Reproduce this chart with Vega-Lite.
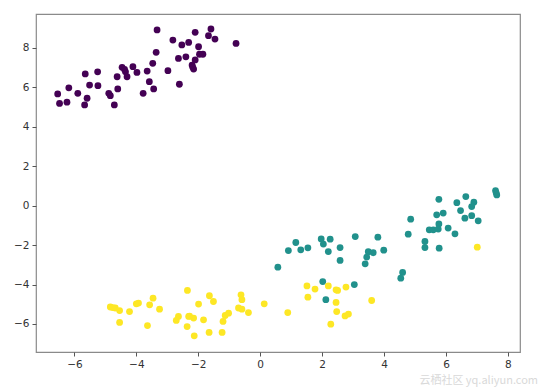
{
  "$schema": "https://vega.github.io/schema/vega-lite/v6.json",
  "width": 484,
  "height": 338,
  "autosize": {"type": "none"},
  "padding": {"left": 36, "top": 14, "right": 19, "bottom": 35},
  "background": "white",
  "title": {"text": "云栖社区 yq.aliyun.com", "orient": "bottom", "anchor": "end", "color": "#d9d9d9", "fontSize": 11, "font": "Noto Sans CJK SC", "fontWeight": "normal", "offset": 5, "dx": 18},
  "config": {
    "view": {"stroke": "#8a8a8a", "strokeWidth": 1.2},
    "axis": {"grid": false, "domain": false, "tickColor": "#555", "tickSize": 4, "labelColor": "#333", "labelFont": "DejaVu Sans", "labelFontSize": 10.5, "labelPadding": 3, "title": null}
  },
  "data": {"values": [
    {"x": -3.33, "y": 8.90, "c": 0}, {"x": -2.10, "y": 8.78, "c": 0}, {"x": -1.59, "y": 8.95, "c": 0}, {"x": -1.67, "y": 8.61, "c": 0},
    {"x": -1.46, "y": 8.44, "c": 0}, {"x": -2.82, "y": 8.39, "c": 0}, {"x": -2.53, "y": 8.14, "c": 0}, {"x": -2.31, "y": 8.27, "c": 0},
    {"x": -1.99, "y": 8.05, "c": 0}, {"x": -0.78, "y": 8.22, "c": 0}, {"x": -3.36, "y": 7.77, "c": 0}, {"x": -1.96, "y": 7.67, "c": 0},
    {"x": -1.85, "y": 7.67, "c": 0}, {"x": -2.64, "y": 7.46, "c": 0}, {"x": -2.40, "y": 7.54, "c": 0}, {"x": -2.10, "y": 7.38, "c": 0},
    {"x": -2.20, "y": 7.12, "c": 0}, {"x": -2.15, "y": 6.92, "c": 0}, {"x": -3.47, "y": 7.21, "c": 0}, {"x": -2.98, "y": 6.84, "c": 0},
    {"x": -4.46, "y": 7.01, "c": 0}, {"x": -4.11, "y": 7.04, "c": 0}, {"x": -4.35, "y": 6.78, "c": 0}, {"x": -4.30, "y": 6.53, "c": 0},
    {"x": -3.98, "y": 6.75, "c": 0}, {"x": -3.65, "y": 6.82, "c": 0}, {"x": -5.25, "y": 6.78, "c": 0}, {"x": -5.65, "y": 6.67, "c": 0},
    {"x": -4.62, "y": 6.53, "c": 0}, {"x": -3.58, "y": 6.28, "c": 0}, {"x": -3.44, "y": 5.91, "c": 0}, {"x": -3.78, "y": 5.69, "c": 0},
    {"x": -2.61, "y": 6.15, "c": 0}, {"x": -5.51, "y": 6.11, "c": 0}, {"x": -5.24, "y": 6.08, "c": 0}, {"x": -4.60, "y": 5.91, "c": 0},
    {"x": -6.18, "y": 5.97, "c": 0}, {"x": -6.54, "y": 5.66, "c": 0}, {"x": -5.89, "y": 5.69, "c": 0}, {"x": -4.89, "y": 5.69, "c": 0},
    {"x": -4.84, "y": 5.57, "c": 0}, {"x": -5.59, "y": 5.44, "c": 0}, {"x": -6.48, "y": 5.18, "c": 0}, {"x": -6.24, "y": 5.24, "c": 0},
    {"x": -5.67, "y": 5.10, "c": 0}, {"x": -4.71, "y": 5.10, "c": 0}, {"x": -2.18, "y": 7.02, "c": 0}, {"x": -4.38, "y": 6.9, "c": 0},
    {"x": 1.15, "y": -1.87, "c": 1}, {"x": 0.91, "y": -2.28, "c": 1}, {"x": 1.31, "y": -2.24, "c": 1}, {"x": 1.54, "y": -2.14, "c": 1},
    {"x": 1.97, "y": -1.69, "c": 1}, {"x": 2.04, "y": -1.95, "c": 1}, {"x": 2.26, "y": -1.70, "c": 1}, {"x": 2.20, "y": -2.33, "c": 1},
    {"x": 2.58, "y": -2.13, "c": 1}, {"x": 3.07, "y": -1.57, "c": 1}, {"x": 3.80, "y": -1.60, "c": 1}, {"x": 3.99, "y": -2.26, "c": 1},
    {"x": 3.49, "y": -2.34, "c": 1}, {"x": 3.65, "y": -2.39, "c": 1}, {"x": 3.44, "y": -2.61, "c": 1}, {"x": 3.39, "y": -2.95, "c": 1},
    {"x": 2.58, "y": -2.78, "c": 1}, {"x": 0.57, "y": -3.12, "c": 1}, {"x": 2.02, "y": -3.85, "c": 1}, {"x": 2.12, "y": -4.77, "c": 1},
    {"x": 3.04, "y": -4.00, "c": 1}, {"x": 4.60, "y": -3.39, "c": 1}, {"x": 4.54, "y": -3.68, "c": 1}, {"x": 4.86, "y": -0.69, "c": 1},
    {"x": 4.78, "y": -1.45, "c": 1}, {"x": 5.77, "y": 0.32, "c": 1}, {"x": 6.35, "y": 0.15, "c": 1}, {"x": 6.64, "y": 0.46, "c": 1},
    {"x": 6.90, "y": 0.17, "c": 1}, {"x": 6.83, "y": -0.05, "c": 1}, {"x": 6.47, "y": -0.25, "c": 1}, {"x": 7.60, "y": 0.76, "c": 1},
    {"x": 7.64, "y": 0.54, "c": 1}, {"x": 7.62, "y": 0.65, "c": 1}, {"x": 5.70, "y": -0.47, "c": 1}, {"x": 5.91, "y": -0.38, "c": 1},
    {"x": 6.61, "y": -0.64, "c": 1}, {"x": 6.83, "y": -0.51, "c": 1}, {"x": 7.04, "y": -0.77, "c": 1}, {"x": 5.46, "y": -1.23, "c": 1},
    {"x": 5.59, "y": -1.23, "c": 1}, {"x": 5.77, "y": -0.93, "c": 1}, {"x": 5.75, "y": -1.19, "c": 1}, {"x": 6.07, "y": -1.14, "c": 1},
    {"x": 6.29, "y": -1.43, "c": 1}, {"x": 5.32, "y": -1.82, "c": 1}, {"x": 5.32, "y": -2.13, "c": 1}, {"x": 5.78, "y": -2.16, "c": 1},
    {"x": -4.84, "y": -5.14, "c": 2}, {"x": -4.68, "y": -5.19, "c": 2}, {"x": -4.54, "y": -5.32, "c": 2}, {"x": -4.22, "y": -5.37, "c": 2},
    {"x": -4.54, "y": -5.92, "c": 2}, {"x": -4.00, "y": -4.98, "c": 2}, {"x": -3.93, "y": -4.94, "c": 2}, {"x": -3.57, "y": -5.03, "c": 2},
    {"x": -3.46, "y": -4.69, "c": 2}, {"x": -3.25, "y": -5.25, "c": 2}, {"x": -3.64, "y": -6.08, "c": 2}, {"x": -2.35, "y": -4.30, "c": 2},
    {"x": -1.99, "y": -4.99, "c": 2}, {"x": -1.64, "y": -4.57, "c": 2}, {"x": -1.51, "y": -4.86, "c": 2}, {"x": -2.64, "y": -5.62, "c": 2},
    {"x": -2.71, "y": -5.82, "c": 2}, {"x": -2.31, "y": -5.62, "c": 2}, {"x": -2.15, "y": -5.70, "c": 2}, {"x": -1.83, "y": -5.79, "c": 2},
    {"x": -2.36, "y": -6.13, "c": 2}, {"x": -2.13, "y": -6.60, "c": 2}, {"x": -1.65, "y": -6.43, "c": 2}, {"x": -1.20, "y": -5.87, "c": 2},
    {"x": -1.13, "y": -5.57, "c": 2}, {"x": -1.02, "y": -5.45, "c": 2}, {"x": -1.23, "y": -6.43, "c": 2}, {"x": -0.62, "y": -4.52, "c": 2},
    {"x": -0.59, "y": -4.77, "c": 2}, {"x": -0.70, "y": -5.19, "c": 2}, {"x": -0.59, "y": -5.25, "c": 2}, {"x": -0.38, "y": -5.42, "c": 2},
    {"x": 0.13, "y": -4.98, "c": 2}, {"x": 0.89, "y": -5.42, "c": 2}, {"x": 1.51, "y": -4.07, "c": 2}, {"x": 1.77, "y": -4.23, "c": 2},
    {"x": 1.54, "y": -4.64, "c": 2}, {"x": 2.20, "y": -4.07, "c": 2}, {"x": 2.45, "y": -4.27, "c": 2}, {"x": 2.77, "y": -4.13, "c": 2},
    {"x": 2.45, "y": -4.91, "c": 2}, {"x": 2.47, "y": -5.37, "c": 2}, {"x": 2.74, "y": -5.59, "c": 2}, {"x": 2.85, "y": -5.50, "c": 2},
    {"x": 2.28, "y": -6.01, "c": 2}, {"x": 3.60, "y": -4.81, "c": 2}, {"x": 7.01, "y": -2.11, "c": 2}, {"x": -4.76, "y": -5.17, "c": 2},
    {"x": -2.28, "y": -5.6, "c": 2}, {"x": 2.5, "y": -4.3, "c": 2}
  ]},
  "mark": {"type": "circle", "size": 46, "opacity": 1},
  "encoding": {
    "x": {"field": "x", "type": "quantitative", "scale": {"domain": [-7.24, 8.39], "nice": false, "zero": false}, "axis": {"values": [-6, -4, -2, 0, 2, 4, 6, 8]}},
    "y": {"field": "y", "type": "quantitative", "scale": {"domain": [-7.42, 9.71], "nice": false, "zero": false}, "axis": {"values": [-6, -4, -2, 0, 2, 4, 6, 8]}},
    "color": {"field": "c", "type": "nominal", "scale": {"domain": [0, 1, 2], "range": ["#440154", "#21918c", "#fde725"]}, "legend": null}
  }
}
